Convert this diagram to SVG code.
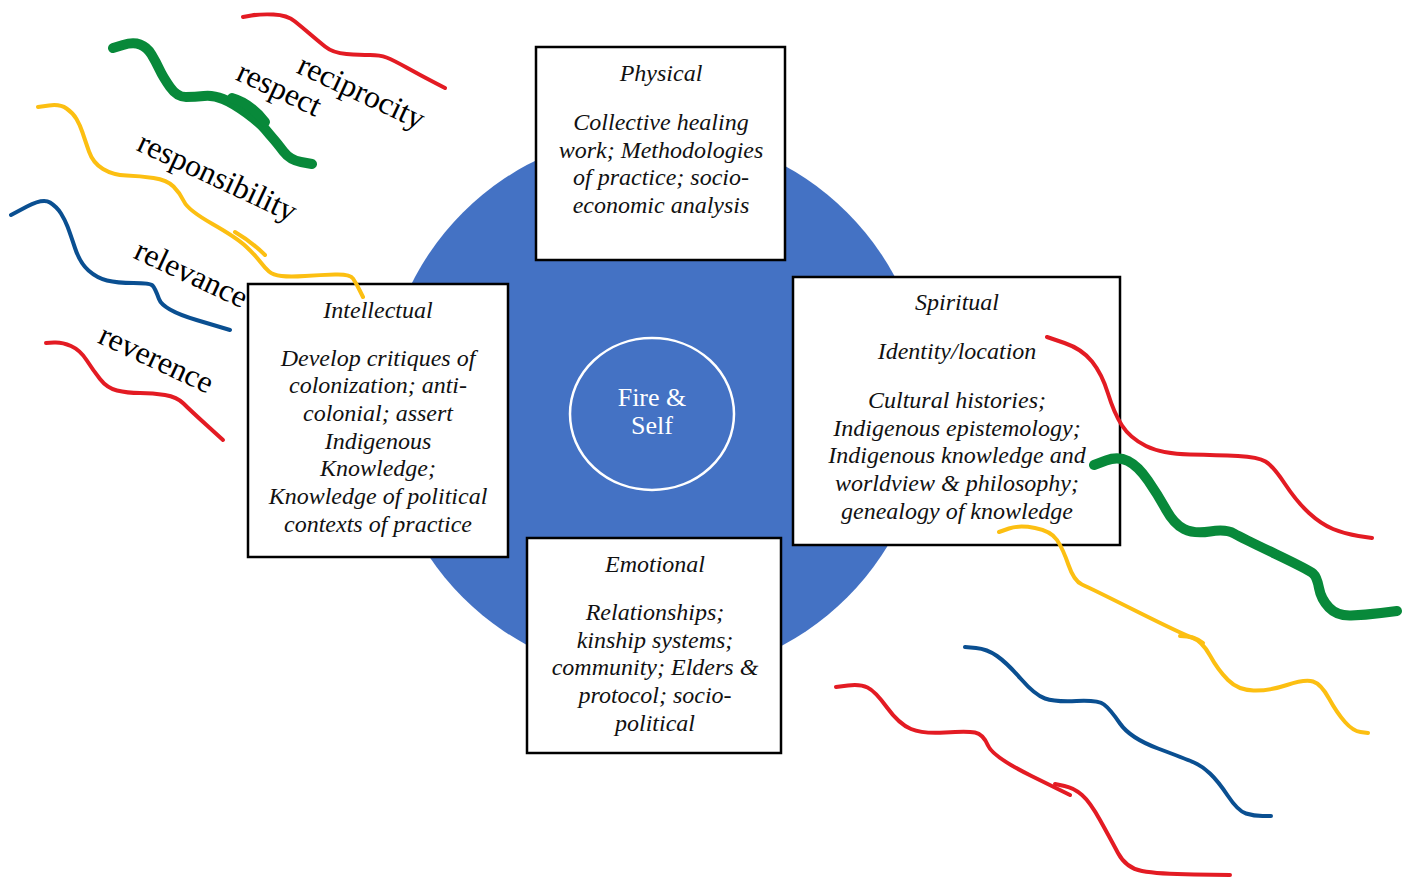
<svg xmlns="http://www.w3.org/2000/svg" width="1402" height="880" viewBox="0 0 1402 880">
<style>
.box{fill:#fff;stroke:#000;stroke-width:2.5}
.t{font-family:"Liberation Serif","Times New Roman",serif;font-size:24px;font-style:italic;fill:#111;text-anchor:middle}
.w{font-family:"Liberation Serif","Times New Roman",serif;font-size:31.5px;fill:#000;text-anchor:middle}
.s{fill:none;stroke-linecap:round;stroke-linejoin:round;stroke-width:4}
.red{stroke:#e31b23}.yel{stroke:#fcbf12}.blu{stroke:#0a4f91}.grn{stroke:#08893a;stroke-width:10}
</style>
<rect width="1402" height="880" fill="#fff"/>
<g id="wheel">
<circle cx="655" cy="405" r="272" fill="#4472c4"/>
</g>
<g id="center">
<ellipse cx="652" cy="414" rx="82" ry="76" fill="#4472c4" stroke="#fff" stroke-width="2.5"/>
<text x="652" y="406" font-family="Liberation Serif, serif" font-size="26" fill="#fff" text-anchor="middle">Fire &amp;</text>
<text x="652" y="434" font-family="Liberation Serif, serif" font-size="26" fill="#fff" text-anchor="middle">Self</text>
</g>
<g id="physical">
<rect class="box" x="536" y="47" width="249" height="213"/>
<text class="t" x="661" y="81">Physical</text>
<text class="t" x="661" y="130">Collective healing</text>
<text class="t" x="661" y="158">work; Methodologies</text>
<text class="t" x="661" y="185">of practice; socio-</text>
<text class="t" x="661" y="213">economic analysis</text>
</g>
<g id="intellectual">
<rect class="box" x="248" y="284" width="260" height="273"/>
<text class="t" x="378" y="318">Intellectual</text>
<text class="t" x="378" y="366">Develop critiques of</text>
<text class="t" x="378" y="393">colonization; anti-</text>
<text class="t" x="378" y="421">colonial; assert</text>
<text class="t" x="378" y="449">Indigenous</text>
<text class="t" x="378" y="476">Knowledge;</text>
<text class="t" x="378" y="504">Knowledge of political</text>
<text class="t" x="378" y="532">contexts of practice</text>
</g>
<g id="spiritual">
<rect class="box" x="793" y="277" width="327" height="268"/>
<text class="t" x="957" y="310">Spiritual</text>
<text class="t" x="957" y="359">Identity/location</text>
<text class="t" x="957" y="408">Cultural histories;</text>
<text class="t" x="957" y="436">Indigenous epistemology;</text>
<text class="t" x="957" y="463">Indigenous knowledge and</text>
<text class="t" x="957" y="491">worldview &amp; philosophy;</text>
<text class="t" x="957" y="519">genealogy of knowledge</text>
</g>
<g id="emotional">
<rect class="box" x="527" y="538" width="254" height="215"/>
<text class="t" x="655" y="572">Emotional</text>
<text class="t" x="655" y="620">Relationships;</text>
<text class="t" x="655" y="648">kinship systems;</text>
<text class="t" x="655" y="675">community; Elders &amp;</text>
<text class="t" x="655" y="703">protocol; socio-</text>
<text class="t" x="655" y="731">political</text>
</g>
<g id="strands">
<path class="s red" d="M243,17 L251.5,15.5 Q260,14 273.5,14.5 Q287,15 295,21.5 Q303,28 310,34 Q317,40 325,46.5 Q333,53 346.5,54 Q360,55 370,55 Q380,55 386.5,57.5 Q393,60 406.5,67.5 Q420,75 432.5,81.5 L445,88"/>
<path class="s grn" d="M113,48 L123,45 Q133,42 140,44.5 Q147,47 151.5,54.5 Q156,62 159.5,69.5 Q163,77 170,87 Q177,97 186,97 Q195,97 204,96 Q213,95 223,99 Q233,103 246.5,113 Q260,123 265,129 Q270,135 273.5,139 Q277,143 283.5,151.5 Q290,160 301,162 L312,164"/>
<path class="s grn" d="M232,98 Q250,103 265,122"/>
<path class="s yel" d="M38,107 L49,105.5 Q60,104 66.5,108.5 Q73,113 76.5,119 Q80,125 82.5,132.5 Q85,140 89,151.5 Q93,163 103,169 Q113,175 126.5,175.5 Q140,176 153.5,178 Q167,180 173.5,186.5 Q180,193 184,201.5 Q188,210 212.5,224 Q237,238 246,246.5 Q255,255 260,261.5 Q265,268 269,271.5 Q273,275 281.5,276 Q290,277 305,276 Q320,275 335,274.5 Q350,274 353,278.5 Q356,283 359.5,290 L363,297"/>
<path class="s yel" d="M235,232 Q252,242 265,255"/>
<path class="s blu" d="M11,215 L27,206.5 Q43,198 50,202.5 Q57,207 61,213.5 Q65,220 67.5,226.5 Q70,233 75,248 Q80,263 88.5,270.5 Q97,278 107,280.5 Q117,283 133.5,283 Q150,283 152.5,285.5 Q155,288 159,299 Q163,310 196.5,320 L230,330"/>
<path class="s red" d="M46,343 L54,342.5 Q62,342 71,346 Q80,350 86.5,360 Q93,370 100,379 Q107,388 117,390.5 Q127,393 140,393 Q153,393 165,395 Q177,397 183.5,403.5 Q190,410 206.5,425 L223,440"/>
<path class="s red" d="M1047,337 L1064.5,343 Q1082,349 1092,361.5 Q1102,374 1108,393.5 Q1114,413 1122,425.5 Q1130,438 1146,446 Q1162,454 1190,454.5 Q1218,455 1238,456 Q1258,457 1265.5,461.5 Q1273,466 1285,484 Q1297,502 1309,513 Q1321,524 1333,529 Q1345,534 1358.5,536 L1372,538"/>
<path class="s grn" d="M1094,465 L1106,460.5 Q1118,456 1128,461 Q1138,466 1148,480.5 Q1158,495 1166,509.5 Q1174,524 1184,529 Q1194,534 1210,531.5 Q1226,529 1234,533.5 Q1242,538 1275.5,554 Q1309,570 1313,573.5 Q1317,577 1319,588 Q1321,599 1329,607.5 Q1337,616 1351,615.5 Q1365,615 1381,613 L1397,611"/>
<path class="s yel" d="M999,532 L1009,528.5 Q1019,525 1035,528 Q1051,531 1057,540 Q1063,549 1068.5,565 Q1074,581 1082,584.5 Q1090,588 1136,611 Q1182,634 1192,637.5 Q1202,641 1210,655.5 Q1218,670 1228,680 Q1238,690 1253.5,690.5 Q1269,691 1287,685 Q1305,679 1313,681.5 Q1321,684 1329,698.5 Q1337,713 1345,722 Q1353,731 1360.5,732 L1368,733"/>
<path class="s yel" d="M1180,636 Q1195,636 1203,643"/>
<path class="s blu" d="M965,647 L976,648 Q987,649 997,656 Q1007,663 1021,679 Q1035,695 1045,698.5 Q1055,702 1076.5,701 Q1098,700 1104,704.5 Q1110,709 1120,723.5 Q1130,738 1158,748.5 Q1186,759 1194,762.5 Q1202,766 1210,773.5 Q1218,781 1228,796 Q1238,811 1246,813.5 Q1254,816 1262.5,816 L1271,816"/>
<path class="s red" d="M836,687 L848,685.5 Q860,684 867.5,687.5 Q875,691 887,707.5 Q899,724 911,729 Q923,734 945,732.5 Q967,731 975,732.5 Q983,734 988,745.5 Q993,757 1031.5,776 L1070,795"/>
<path class="s red" d="M1055,784 L1064.5,786 Q1074,788 1082,795 Q1090,802 1100,820 Q1110,838 1118,853 Q1126,868 1142,871 Q1158,874 1194,874.5 L1230,875"/>
</g>
<g id="values">
<text class="w" transform="translate(357,101) rotate(25)">reciprocity</text>
<text class="w" transform="translate(275,98) rotate(25)">respect</text>
<text class="w" transform="translate(213,186) rotate(25)">responsibility</text>
<text class="w" transform="translate(187,283) rotate(25)">relevance</text>
<text class="w" transform="translate(152,368) rotate(25)">reverence</text>
</g>
</svg>
